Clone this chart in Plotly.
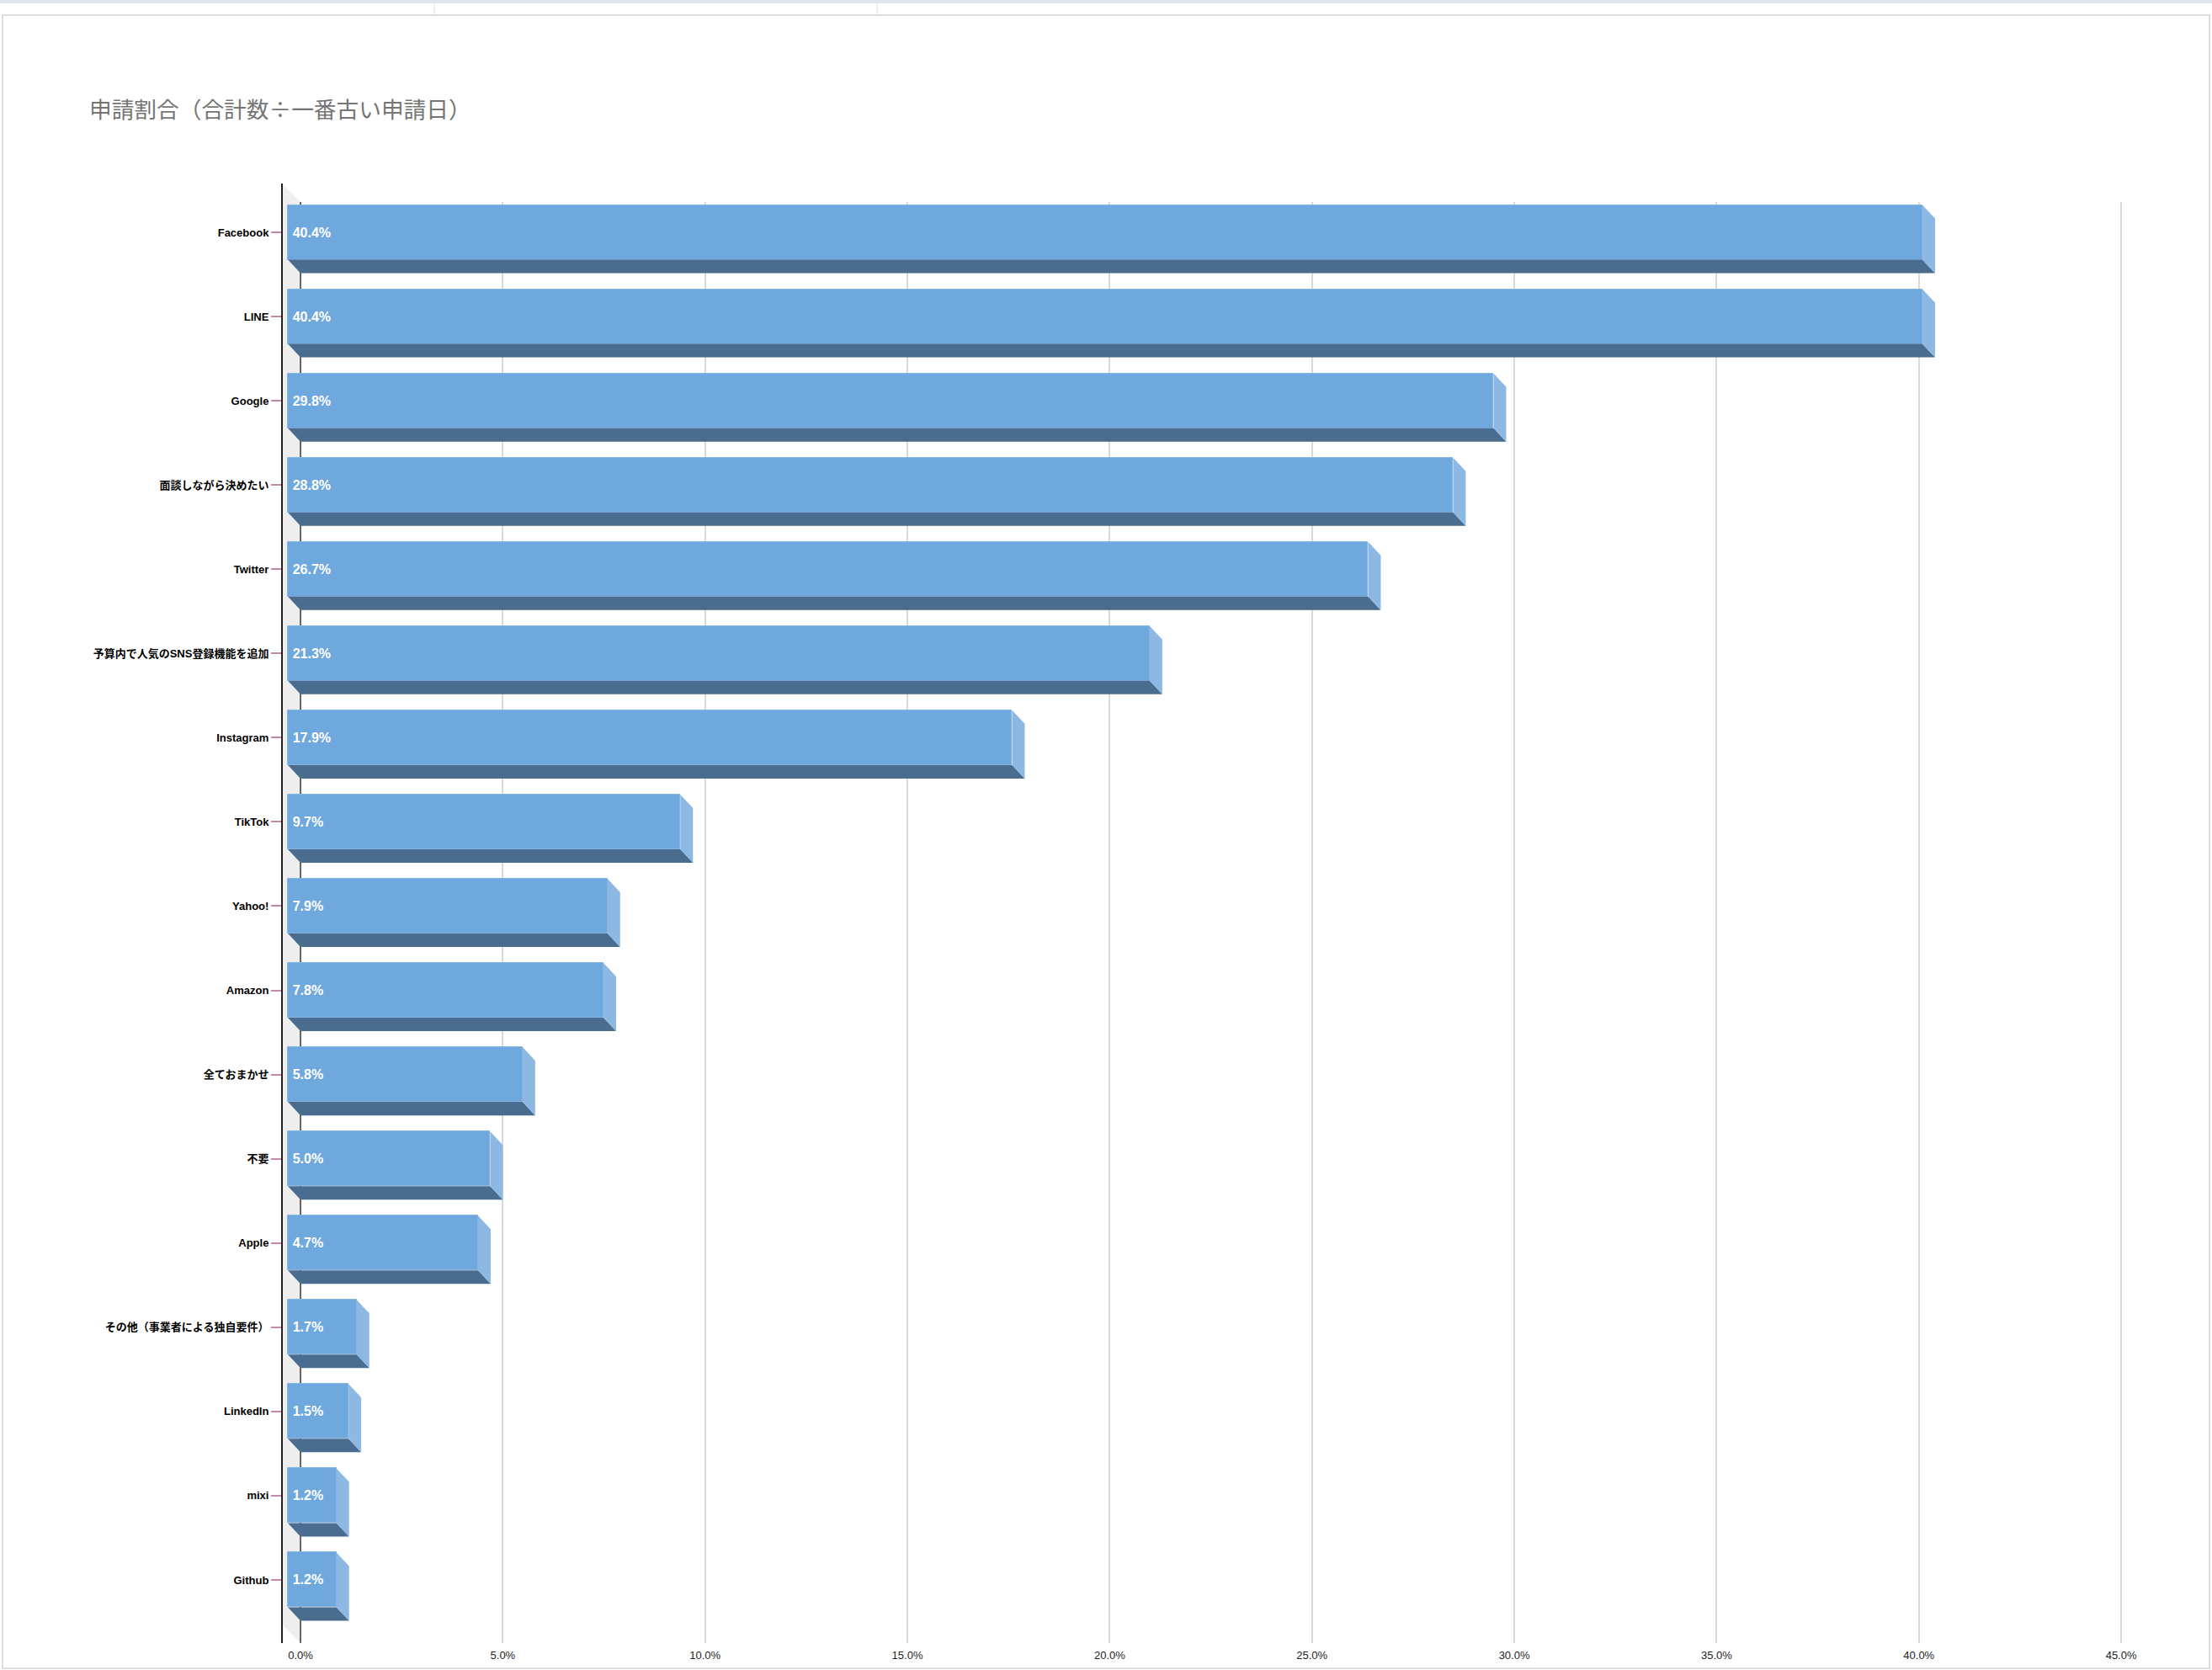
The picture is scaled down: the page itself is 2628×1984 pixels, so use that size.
import plotly.graph_objects as go

# data
categories = [
    "Facebook", "LINE", "Google", "面談しながら決めたい", "Twitter",
    "予算内で人気のSNS登録機能を追加", "Instagram", "TikTok", "Yahoo!",
    "Amazon", "全ておまかせ", "不要", "Apple", "その他（事業者による独自要件）",
    "LinkedIn", "mixi", "Github",
]
share_pct = [40.4, 40.4, 29.8, 28.8, 26.7, 21.3, 17.9, 9.7, 7.9, 7.8,
             5.8, 5.0, 4.7, 1.7, 1.5, 1.2, 1.2]
x_ticks = [0, 5, 10, 15, 20, 25, 30, 35, 40, 45]
x_tick_labels = [f"{t:.1f}%" for t in x_ticks]

W, H = 2628, 1984
L, R, T, B = 335, 68, 240, 32
plot_w, plot_h = W - L - R, H - T - B

# fake 3D look (Google Sheets style)
bar_h = 0.65
dx = 0.312   # depth, in % units
dy = 0.16    # depth, in category units
xmin, xmax = -0.458, 45.83

idx = list(range(len(categories)))

bottom_x, bottom_y, side_x, side_y = [], [], [], []
for c, v in zip(idx, share_pct):
    top, bot = c - bar_h / 2, c + bar_h / 2
    bottom_x += [-dx, v - dx, v, 0, -dx, None]
    bottom_y += [bot, bot, bot + dy, bot + dy, bot, None]
    side_x += [v - dx, v, v, v - dx, v - dx, None]
    side_y += [top, top + dy, bot + dy, bot, top, None]

fig = go.Figure()

fig.add_trace(go.Scatter(
    x=bottom_x, y=bottom_y, mode="none", fill="toself",
    fillcolor="#4a6d8f", hoverinfo="skip", showlegend=False,
))
fig.add_trace(go.Scatter(
    x=side_x, y=side_y, mode="none", fill="toself",
    fillcolor="#8db8e3", hoverinfo="skip", showlegend=False,
))
fig.add_trace(go.Bar(
    y=idx, x=share_pct, base=-dx, orientation="h", width=bar_h,
    marker=dict(color="#6fa8dc", line=dict(color="#86b5e2", width=1)),
    text=[f"\u2009{v:.1f}%" for v in share_pct],
    textposition="inside", insidetextanchor="start", textangle=0,
    constraintext="none",
    textfont=dict(family="Liberation Sans, Noto Sans CJK JP", size=16,
                  color="white", weight="bold"),
    showlegend=False,
))


def px_x(p):
    return (p - L) / plot_w


def px_y(p):
    return (H - B - p) / plot_h


shapes = [
    # left wall
    dict(type="path", xref="x", yref="paper", layer="below",
         path=f"M {xmin},{px_y(218)} L 0,{px_y(240)} L 0,{px_y(1952)} "
              f"L {xmin},{px_y(1930)} Z",
         fillcolor="#eeeeee", line=dict(width=0)),
    # axis line
    dict(type="line", xref="paper", yref="paper", x0=0, x1=0,
         y0=px_y(1952), y1=px_y(218), line=dict(color="#222222", width=2)),
    # sheet frame
    dict(type="rect", xref="paper", yref="paper", x0=px_x(0), x1=px_x(W),
         y0=px_y(0), y1=px_y(4), fillcolor="#dfe3ec", line=dict(width=0)),
    dict(type="rect", xref="paper", yref="paper", x0=px_x(3), x1=px_x(2625),
         y0=px_y(1982), y1=px_y(18), line=dict(color="#dadce0", width=2)),
    dict(type="line", xref="paper", yref="paper", x0=px_x(516), x1=px_x(516),
         y0=px_y(18), y1=px_y(4), line=dict(color="#e0e0e0", width=1)),
    dict(type="line", xref="paper", yref="paper", x0=px_x(1042), x1=px_x(1042),
         y0=px_y(18), y1=px_y(4), line=dict(color="#e0e0e0", width=1)),
]

fig.update_layout(
    width=W, height=H,
    margin=dict(l=L, r=R, t=T, b=B),
    paper_bgcolor="white", plot_bgcolor="white",
    title=dict(
        text="申請割合（合計数÷一番古い申請日）",
        font=dict(family="Noto Sans CJK JP", size=26.7, color="#757575"),
        xref="container", yref="container", x=106 / W, xanchor="left",
        y=1 - 131 / H, yanchor="middle",
    ),
    shapes=shapes,
    bargap=0,
)
fig.update_xaxes(
    range=[xmin, xmax], tickvals=x_ticks, ticktext=x_tick_labels,
    showgrid=True, gridcolor="#d9d9d9", gridwidth=2,
    zeroline=True, zerolinecolor="#666666", zerolinewidth=2,
    showline=False, ticks="", automargin=False, ticklabelstandoff=5,
    tickfont=dict(family="Liberation Sans", size=13, color="#222222"),
)
fig.update_yaxes(
    range=[16.75, -0.36], tickvals=idx, ticktext=categories,
    showgrid=False, zeroline=False, showline=False,
    ticks="outside", ticklen=12, tickwidth=2, tickcolor="#c08aa6",
    automargin=False,
    tickfont=dict(family="Liberation Sans, Noto Sans CJK JP", size=13,
                  color="#000000", weight="bold"),
)

fig.write_html("out.html", config={"displayModeBar": False},
               post_script="document.body.style.margin='0';")
